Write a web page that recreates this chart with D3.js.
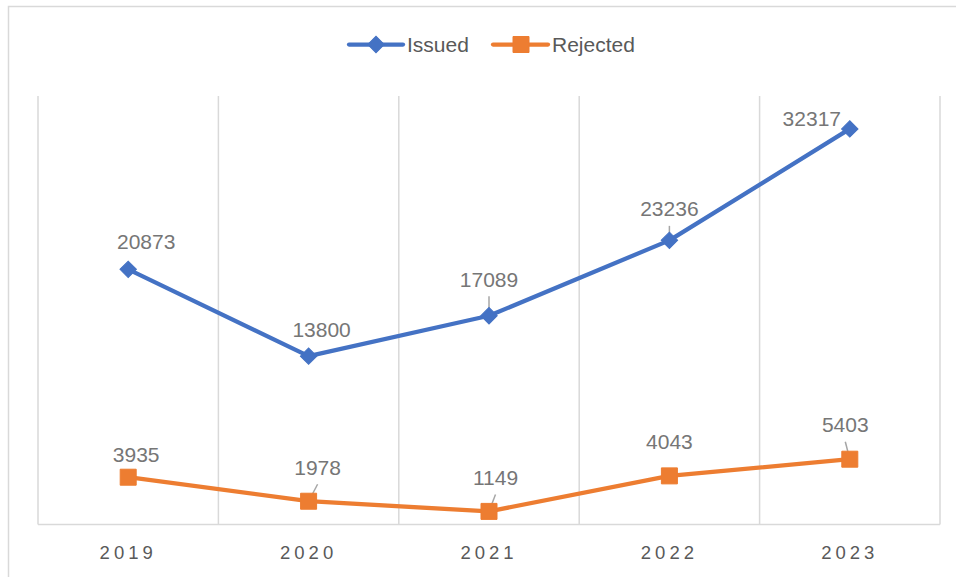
<!DOCTYPE html>
<html>
<head>
<meta charset="utf-8">
<script src="https://cdn.jsdelivr.net/npm/d3@7"></script>
<style>
  html, body { margin: 0; padding: 0; background: #ffffff; }
  svg { display: block; }
</style>
</head>
<body>
<svg id="chart" width="956" height="577"></svg>
<script>
// ---- data ----
const years = ["2019", "2020", "2021", "2022", "2023"];
const issued = [20873, 13800, 17089, 23236, 32317];
const rejected = [3935, 1978, 1149, 4043, 5403];
const seriesNames = ["Issued", "Rejected"];
const yTicks = [0, 5000, 10000, 15000, 20000, 25000, 30000, 35000];

// ---- label placement (style) ----
const issuedLabelOffset = [[18, -28], [13, -27], [0, -36.5], [0, -31.5], [-38, -10]];
const rejectedLabelOffset = [[8, -22.5], [9, -34], [6.5, -34], [0, -34], [-4.5, -34.5]];
const issuedLeader = [false, false, true, true, false];
const rejectedLeader = [false, true, true, false, true];

const blue = "#4472C4", orange = "#ED7D31", grid = "#d9d9d9";
const font = "'Liberation Sans', Arial, sans-serif";

const svg = d3.select("#chart");

// outer chart border
svg.append("rect").attr("x", 8.5).attr("y", 6.5).attr("width", 1000).attr("height", 1000)
  .attr("fill", "none").attr("stroke", grid).attr("stroke-width", 1.5);

const x = d3.scaleBand().domain(years).range([38, 940]);
const y = d3.scaleLinear().domain([0, d3.max(yTicks)]).range([525.5, 96]);
const cx = d => x(d) + x.bandwidth() / 2;

// vertical gridlines at band boundaries
const bounds = years.map(d => x(d)).concat([x(years[years.length - 1]) + x.bandwidth()]);
svg.append("g").selectAll("line").data(bounds).join("line")
  .attr("x1", d => d).attr("x2", d => d)
  .attr("y1", y(d3.max(yTicks))).attr("y2", 524.5)
  .attr("stroke", grid).attr("stroke-width", 1.5);

// bottom axis
const xAxis = d3.axisBottom(x).tickSize(0).tickPadding(0);
const ax = svg.append("g").attr("transform", "translate(0,524.5)").call(xAxis);
ax.select(".domain").attr("stroke", grid).attr("stroke-width", 1.5)
  .attr("d", "M38,0H940");
ax.selectAll("text")
  .attr("y", 34.5)
  .attr("dy", null)
  .attr("fill", "#595959")
  .style("font-family", font)
  .style("font-size", "18.5px")
  .style("letter-spacing", "4px");

function drawSeries(values, color, shape, offsets, leaders) {
  const pts = years.map((d, i) => ({ year: d, v: values[i], i }));
  const line = d3.line().x(d => cx(d.year)).y(d => y(d.v));
  // leader lines
  svg.append("g").selectAll("line").data(pts.filter(d => leaders[d.i])).join("line")
    .attr("x1", d => cx(d.year) + offsets[d.i][0])
    .attr("y1", d => y(d.v) + offsets[d.i][1] + 17)
    .attr("x2", d => cx(d.year))
    .attr("y2", d => y(d.v))
    .attr("stroke", "#a6a6a6").attr("stroke-width", 1.5);
  svg.append("path").datum(pts).attr("d", line)
    .attr("fill", "none").attr("stroke", color).attr("stroke-width", 4.25)
    .attr("stroke-linejoin", "round").attr("stroke-linecap", "round");
  const sym = d3.symbol().type(d3.symbolSquare)
    .size(shape === "diamond" ? 135 : 256);
  svg.append("g").selectAll("path").data(pts).join("path")
    .attr("d", sym)
    .attr("transform", d => `translate(${cx(d.year)},${y(d.v)})` + (shape === "diamond" ? " rotate(45)" : ""))
    .attr("fill", color).attr("stroke", color).attr("stroke-width", 1);
  svg.append("g").selectAll("text").data(pts).join("text")
    .attr("x", d => cx(d.year) + offsets[d.i][0])
    .attr("y", d => y(d.v) + offsets[d.i][1] + 7.5)
    .attr("text-anchor", "middle")
    .attr("fill", "#767676")
    .style("font-family", font).style("font-size", "21px")
    .text(d => d.v);
}

drawSeries(issued, blue, "diamond", issuedLabelOffset, issuedLeader);
drawSeries(rejected, orange, "square", rejectedLabelOffset, rejectedLeader);

// legend
const legend = svg.append("g");
const legendItems = [
  { name: seriesNames[0], color: blue, shape: "diamond", x0: 349, x1: 403, mx: 376, tx: 407 },
  { name: seriesNames[1], color: orange, shape: "square", x0: 493, x1: 548, mx: 521, tx: 552 }
];
legendItems.forEach(it => {
  legend.append("line").attr("x1", it.x0).attr("x2", it.x1).attr("y1", 44.5).attr("y2", 44.5)
    .attr("stroke", it.color).attr("stroke-width", 4.25).attr("stroke-linecap", "round");
  legend.append("path")
    .attr("d", d3.symbol().type(d3.symbolSquare).size(it.shape === "diamond" ? 135 : 256))
    .attr("transform", `translate(${it.mx},44.5)` + (it.shape === "diamond" ? " rotate(45)" : ""))
    .attr("fill", it.color).attr("stroke", it.color);
  legend.append("text").attr("x", it.tx).attr("y", 52)
    .attr("fill", "#595959")
    .style("font-family", font).style("font-size", "21px")
    .text(it.name);
});
</script>
</body>
</html>
